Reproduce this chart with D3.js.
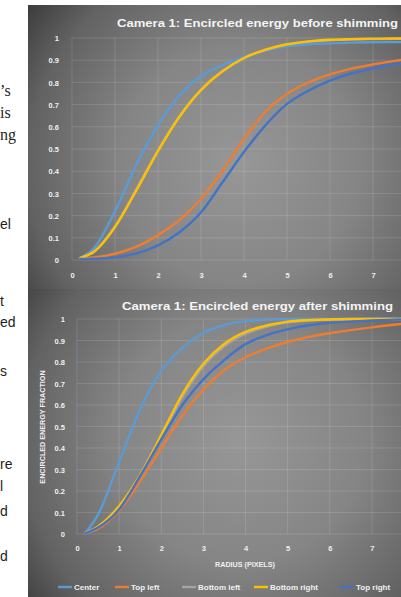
<!DOCTYPE html>
<html>
<head>
<meta charset="utf-8">
<script src="https://cdn.jsdelivr.net/npm/d3@7"></script>
<style>
  html, body { margin: 0; padding: 0; background: #fff; overflow: hidden; }
  svg { display: block; }
</style>
</head>
<body>
<svg id="fig" width="401" height="597"></svg>
<script>
// ---- data -------------------------------------------------------------
const radius = [0.2, 0.5, 1, 1.5, 2, 2.5, 3, 3.5, 4, 4.5, 5, 5.5, 6, 6.5, 7, 7.5, 8];
const seriesNames = ["Center", "Top left", "Bottom left", "Bottom right", "Top right"];

// encircled energy before shimming
const beforeCenter      = [0.01, 0.05, 0.22, 0.43, 0.607, 0.742, 0.828, 0.878, 0.915, 0.943, 0.962, 0.971, 0.976, 0.979, 0.981, 0.982, 0.983];
const beforeTopLeft     = [0.008, 0.012, 0.028, 0.06, 0.112, 0.18, 0.275, 0.402, 0.545, 0.668, 0.748, 0.8, 0.836, 0.862, 0.881, 0.897, 0.908];
const beforeBottomLeft  = [0.01, 0.037, 0.152, 0.32, 0.495, 0.649, 0.768, 0.851, 0.909, 0.946, 0.97, 0.983, 0.99, 0.993, 0.995, 0.996, 0.997];
const beforeBottomRight = [0.01, 0.035, 0.148, 0.315, 0.49, 0.645, 0.765, 0.85, 0.91, 0.948, 0.972, 0.985, 0.992, 0.995, 0.997, 0.998, 0.998];
const beforeTopRight    = [0.005, 0.006, 0.012, 0.03, 0.066, 0.125, 0.215, 0.35, 0.487, 0.607, 0.703, 0.763, 0.808, 0.84, 0.863, 0.882, 0.895];

// encircled energy after shimming
const afterCenter      = [0.005, 0.09, 0.335, 0.58, 0.76, 0.865, 0.935, 0.972, 0.99, 0.997, 1, 1, 1, 1, 1, 1, 1];
const afterTopLeft     = [0.004, 0.025, 0.11, 0.245, 0.4, 0.55, 0.672, 0.763, 0.822, 0.862, 0.893, 0.917, 0.934, 0.948, 0.961, 0.973, 0.983];
const afterBottomLeft  = [0.004, 0.033, 0.125, 0.27, 0.452, 0.638, 0.78, 0.874, 0.932, 0.965, 0.985, 0.993, 0.997, 0.999, 1, 1, 1];
const afterBottomRight = [0.005, 0.035, 0.13, 0.275, 0.46, 0.65, 0.792, 0.885, 0.94, 0.97, 0.988, 0.995, 0.998, 1, 1, 1, 1];
const afterTopRight    = [0.004, 0.03, 0.115, 0.27, 0.44, 0.6, 0.72, 0.81, 0.883, 0.925, 0.952, 0.971, 0.982, 0.988, 0.993, 0.997, 0.999];

const yTickValues = [0, 0.1, 0.2, 0.3, 0.4, 0.5, 0.6, 0.7, 0.8, 0.9, 1];
const yTickLabels = ["0", "0.1", "0.2", "0.3", "0.4", "0.5", "0.6", "0.7", "0.8", "0.9", "1"];
const xTickValues = [0, 1, 2, 3, 4, 5, 6, 7];

const titleBefore = "Camera 1: Encircled energy before shimming";
const titleAfter = "Camera 1: Encircled energy after shimming";
const yAxisTitle = "ENCIRCLED ENERGY FRACTION";
const xAxisTitle = "RADIUS (PIXELS)";

// word endings of the wrapped body text beside the figure
const marginWords = ["\u2019s", "is", "ng", "el", "t", "ed", "s", "re", "l", "d", "d"];

// ---- styling / layout -------------------------------------------------
const seriesColors = ["#5B9BD5", "#ED7D31", "#A5A5A5", "#FFC000", "#4472C4"];
const marginLayout = [
  { y: 96, serif: true }, { y: 118, serif: true }, { y: 140, serif: true },
  { y: 229, serif: false }, { y: 306, serif: false }, { y: 327, serif: false },
  { y: 376, serif: false }, { y: 469, serif: false }, { y: 491, serif: false },
  { y: 516, serif: false }, { y: 561, serif: false }
];
const legendX = [58, 115, 182, 254, 340];

const svg = d3.select("#fig");
const defs = svg.append("defs");

function addGradient(id, cx, cy, r) {
  const g = defs.append("radialGradient")
    .attr("id", id).attr("gradientUnits", "userSpaceOnUse")
    .attr("cx", cx).attr("cy", cy).attr("r", r);
  g.append("stop").attr("offset", "0%").attr("stop-color", "#979797");
  g.append("stop").attr("offset", "45%").attr("stop-color", "#858585");
  g.append("stop").attr("offset", "80%").attr("stop-color", "#626262");
  g.append("stop").attr("offset", "100%").attr("stop-color", "#3c3c3c");
}
addGradient("bgTop", 240, 165, 265);
addGradient("bgBottom", 240, 440, 275);

// body text fragments on the left
svg.append("g").selectAll("text").data(marginWords).join("text")
  .attr("x", 0)
  .attr("y", (d, i) => marginLayout[i].y)
  .attr("font-family", (d, i) => marginLayout[i].serif ? "Liberation Serif, serif" : "Liberation Sans, sans-serif")
  .attr("font-size", (d, i) => marginLayout[i].serif ? 16 : 14)
  .attr("fill", "#1e1e1e")
  .text(d => d);

const fontUI = "Liberation Sans, Arial, sans-serif";

function drawChart(opts) {
  const g = svg.append("g");
  g.append("rect")
    .attr("x", opts.panel[0]).attr("y", opts.panel[1])
    .attr("width", opts.panel[2]).attr("height", opts.panel[3])
    .attr("fill", `url(#${opts.bg})`);

  const x = d3.scaleLinear().domain([0, 8]).range(opts.xRange);
  const y = d3.scaleLinear().domain([0, 1]).range(opts.yRange);

  // gridlines
  g.append("g").selectAll("line.h").data(yTickValues).join("line")
    .attr("x1", opts.xRange[0]).attr("x2", opts.xRange[1])
    .attr("y1", d => y(d)).attr("y2", d => y(d))
    .attr("stroke", "rgba(255,255,255,0.16)").attr("stroke-width", 0.8);
  g.append("g").selectAll("line.v").data(xTickValues).join("line")
    .attr("x1", d => x(d)).attr("x2", d => x(d))
    .attr("y1", opts.yRange[0]).attr("y2", opts.yRange[1])
    .attr("stroke", "rgba(255,255,255,0.16)").attr("stroke-width", 0.8);

  // axes (labels only)
  const yAxis = d3.axisLeft(y).tickValues(yTickValues)
    .tickFormat((d, i) => yTickLabels[i]).tickSize(0).tickPadding(0);
  const ya = g.append("g").attr("transform", `translate(${opts.yLabelX},0)`).call(yAxis);
  ya.select(".domain").remove();
  ya.selectAll("text").attr("fill", "#f0f0f0").attr("font-family", fontUI)
    .attr("font-weight", "bold").attr("font-size", 7.5).attr("dy", "0.35em");

  const xAxis = d3.axisBottom(x).tickValues(xTickValues).tickFormat(d3.format("d")).tickSize(0).tickPadding(0);
  const xa = g.append("g").attr("transform", `translate(0,${opts.xLabelY})`).call(xAxis);
  xa.select(".domain").remove();
  xa.selectAll("text").attr("fill", "#f0f0f0").attr("font-family", fontUI)
    .attr("font-weight", "bold").attr("font-size", 7.5).attr("dy", "0.35em");

  // title
  g.append("text")
    .attr("x", opts.title[1]).attr("y", opts.title[2])
    .attr("textLength", opts.title[3]).attr("lengthAdjust", "spacingAndGlyphs")
    .attr("fill", "#f4f4f4").attr("font-family", fontUI).attr("font-weight", "bold")
    .attr("font-size", 10.5)
    .text(opts.title[0]);

  // series
  const line = d3.line().x((d, i) => x(radius[i])).y(d => y(d)).curve(d3.curveMonotoneX);
  g.append("g").selectAll("path").data(opts.series).join("path")
    .attr("d", d => line(d))
    .attr("fill", "none")
    .attr("stroke", (d, i) => seriesColors[i])
    .attr("stroke-width", 2.4)
    .attr("stroke-linecap", "round")
    .attr("stroke-linejoin", "round");
  return { g, x, y };
}

drawChart({
  bg: "bgTop",
  panel: [28, 5, 400, 284],
  xRange: [72, 416],
  yRange: [260, 38],
  yLabelX: 59,
  xLabelY: 275,
  title: [titleBefore, 117, 27, 281],
  series: [beforeCenter, beforeTopLeft, beforeBottomLeft, beforeBottomRight, beforeTopRight]
});

drawChart({
  bg: "bgBottom",
  panel: [28, 289, 400, 320],
  xRange: [77, 414],
  yRange: [534, 319],
  yLabelX: 65,
  xLabelY: 548,
  title: [titleAfter, 122, 310, 271],
  series: [afterCenter, afterTopLeft, afterBottomLeft, afterBottomRight, afterTopRight]
});

// axis titles of the lower chart
svg.append("text")
  .attr("transform", "translate(45,427) rotate(-90)")
  .attr("text-anchor", "middle")
  .attr("fill", "#f0f0f0").attr("font-family", fontUI).attr("font-weight", "bold")
  .attr("font-size", 7.2)
  .text(yAxisTitle);
svg.append("text")
  .attr("x", 245).attr("y", 567)
  .attr("text-anchor", "middle")
  .attr("fill", "#f0f0f0").attr("font-family", fontUI).attr("font-weight", "bold")
  .attr("font-size", 7.2)
  .text(xAxisTitle);

// legend
const leg = svg.append("g").selectAll("g").data(seriesNames).join("g")
  .attr("transform", (d, i) => `translate(${legendX[i]},587)`);
leg.append("line").attr("x1", 0).attr("x2", 14).attr("y1", 0).attr("y2", 0)
  .attr("stroke", (d, i) => seriesColors[i]).attr("stroke-width", 2.4);
leg.append("text").attr("x", 16).attr("y", 3)
  .attr("fill", "#f0f0f0").attr("font-family", fontUI).attr("font-weight", "bold")
  .attr("font-size", 8)
  .text(d => d);
</script>
</body>
</html>
